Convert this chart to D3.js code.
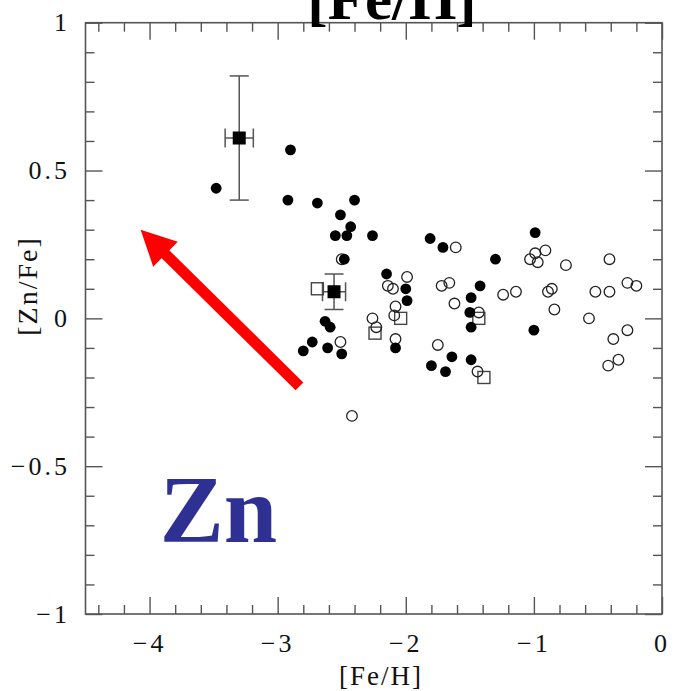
<!DOCTYPE html>
<html>
<head>
<meta charset="utf-8">
<script src="https://cdn.jsdelivr.net/npm/d3@7"></script>
<style>
  html, body { margin: 0; padding: 0; background: #fff; }
  svg { display: block; }
</style>
</head>
<body>
<svg id="chart" width="676" height="691"></svg>
<script>
// ---- data ----
const xMajorTicks = [-4, -3, -2, -1, 0];
const xTickLabels = ["\u22124", "\u22123", "\u22122", "\u22121", "0"];
const yMajorTicks = [-1, -0.5, 0, 0.5, 1];
const yTickLabels = ["\u22121", "\u22120.5", "0", "0.5", "1"];

const filledCircles = [
  [-3.48, 0.44], [-2.90, 0.57], [-2.92, 0.40], [-2.69, 0.39], [-2.40, 0.40],
  [-2.51, 0.35], [-2.43, 0.31], [-2.55, 0.28], [-2.46, 0.28], [-2.26, 0.28],
  [-2.48, 0.20], [-2.63, -0.01], [-2.59, -0.03], [-2.73, -0.08], [-2.80, -0.11],
  [-2.61, -0.10], [-2.50, -0.12], [-2.15, 0.15], [-2.00, 0.10], [-1.99, 0.06],
  [-2.08, -0.10], [-1.81, 0.27], [-1.71, 0.24], [-1.30, 0.20], [-1.42, 0.11],
  [-1.49, 0.07], [-1.50, 0.02], [-1.49, -0.03], [-1.64, -0.13], [-1.80, -0.16],
  [-1.69, -0.18], [-1.49, -0.14], [-0.99, 0.29], [-1.00, -0.04]
];

const openCircles = [
  [-2.50, 0.20], [-2.51, -0.08], [-2.26, 0.00], [-2.23, -0.03], [-1.99, 0.14],
  [-2.14, 0.11], [-2.10, 0.10], [-2.08, 0.04], [-2.09, 0.01], [-2.08, -0.07],
  [-2.42, -0.33], [-1.61, 0.24], [-1.03, 0.20], [-1.72, 0.11], [-1.66, 0.12],
  [-1.62, 0.05], [-1.43, 0.02], [-1.24, 0.08], [-1.14, 0.09], [-1.75, -0.09],
  [-1.44, -0.18], [-0.99, 0.22], [-0.97, 0.19], [-0.91, 0.23], [-0.75, 0.18],
  [-0.41, 0.20], [-0.89, 0.09], [-0.86, 0.10], [-0.84, 0.03], [-0.52, 0.09],
  [-0.41, 0.09], [-0.27, 0.12], [-0.20, 0.11], [-0.57, 0.00], [-0.27, -0.04],
  [-0.38, -0.07], [-0.34, -0.14], [-0.42, -0.16]
];

const openSquares = [
  [-2.69, 0.10], [-2.24, -0.05], [-2.04, 0.00], [-1.43, 0.00], [-1.39, -0.20]
];

// [FeH, ZnFe, errFeH, errZnFe]
const filledSquares = [
  [-3.30, 0.61, 0.11, 0.21],
  [-2.56, 0.09, 0.09, 0.06]
];

// annotation arrow in data units: [tailX, tailY, tipX, tipY]
const arrowData = [-2.83, -0.23, -4.07, 0.30];
const elementLabel = { text: "Zn", x: -3.92, y: -0.755 };

// ---- drawing ----
const svg = d3.select("#chart");
const mLeft = 85.5, mRight = 662, mTop = 22.7, mBottom = 614;

const x = d3.scaleLinear().domain([-4.5, 0]).range([mLeft, mRight]);
const y = d3.scaleLinear().domain([-1, 1]).range([mBottom, mTop]);

const frameColor = "#555";
const serif = "'Liberation Serif', 'Times New Roman', serif";

// minor tick values
const xMinor = d3.range(-44, 0, 2).map(v => v / 10).filter(v => !xMajorTicks.some(m => Math.abs(m - v) < 1e-9));
const yMinor = d3.range(-9, 10, 1).map(v => v / 10).filter(v => !yMajorTicks.some(m => Math.abs(m - v) < 1e-9));

function styleAxis(g) {
  g.select(".domain").remove();
  g.selectAll("line").attr("stroke", frameColor).attr("stroke-width", 1.4);
  g.selectAll("text").remove();
}

const majLen = 17, minLen = 9;
svg.append("g").attr("transform", `translate(0,${mBottom})`)
  .call(d3.axisBottom(x).tickValues(xMajorTicks).tickSize(-majLen)).call(styleAxis);
svg.append("g").attr("transform", `translate(0,${mBottom})`)
  .call(d3.axisBottom(x).tickValues(xMinor).tickSize(-minLen)).call(styleAxis);
svg.append("g").attr("transform", `translate(0,${mTop})`)
  .call(d3.axisTop(x).tickValues(xMajorTicks).tickSize(-majLen)).call(styleAxis);
svg.append("g").attr("transform", `translate(0,${mTop})`)
  .call(d3.axisTop(x).tickValues(xMinor).tickSize(-minLen)).call(styleAxis);
svg.append("g").attr("transform", `translate(${mLeft},0)`)
  .call(d3.axisLeft(y).tickValues(yMajorTicks).tickSize(-majLen)).call(styleAxis);
svg.append("g").attr("transform", `translate(${mLeft},0)`)
  .call(d3.axisLeft(y).tickValues(yMinor).tickSize(-minLen)).call(styleAxis);
svg.append("g").attr("transform", `translate(${mRight},0)`)
  .call(d3.axisRight(y).tickValues(yMajorTicks).tickSize(-majLen)).call(styleAxis);
svg.append("g").attr("transform", `translate(${mRight},0)`)
  .call(d3.axisRight(y).tickValues(yMinor).tickSize(-minLen)).call(styleAxis);

// frame
svg.append("rect")
  .attr("x", mLeft).attr("y", mTop)
  .attr("width", mRight - mLeft).attr("height", mBottom - mTop)
  .attr("fill", "none").attr("stroke", frameColor).attr("stroke-width", 1.6);

// tick labels
svg.append("g").selectAll("text").data(xMajorTicks).join("text")
  .attr("x", d => x(d)).attr("y", mBottom + 38)
  .attr("text-anchor", "middle")
  .attr("font-family", serif).attr("font-size", 26)
  .attr("letter-spacing", 3)
  .attr("fill", "#111")
  .text((d, i) => xTickLabels[i]);

svg.append("g").selectAll("text").data(yMajorTicks).join("text")
  .attr("x", 70).attr("y", d => y(d) + 8.5)
  .attr("text-anchor", "end")
  .attr("font-family", serif).attr("font-size", 26)
  .attr("letter-spacing", 3)
  .attr("fill", "#111")
  .text((d, i) => yTickLabels[i]);

// axis titles
svg.append("text")
  .attr("x", 381).attr("y", 685)
  .attr("text-anchor", "middle")
  .attr("font-family", serif).attr("font-size", 27)
  .attr("letter-spacing", 2)
  .attr("fill", "#111")
  .text("[Fe/H]");

svg.append("text")
  .attr("transform", "translate(37,286) rotate(-90)")
  .attr("text-anchor", "middle")
  .attr("font-family", serif).attr("font-size", 28)
  .attr("letter-spacing", 2)
  .attr("fill", "#111")
  .text("[Zn/Fe]");

// cut-off big title at top
svg.append("text")
  .attr("x", 392).attr("y", 19)
  .attr("text-anchor", "middle")
  .attr("font-family", serif).attr("font-size", 61)
  .attr("font-weight", "bold")
  .attr("fill", "#000")
  .text("[Fe/H]");

// big element label
svg.append("text")
  .attr("x", x(elementLabel.x)).attr("y", y(elementLabel.y))
  .attr("font-family", serif).attr("font-size", 96)
  .attr("font-weight", "bold")
  .attr("fill", "#2E3192")
  .text(elementLabel.text);

// red arrow
(function drawArrow() {
  const x0 = x(arrowData[0]), y0 = y(arrowData[1]);
  const x1 = x(arrowData[2]), y1 = y(arrowData[3]);
  const ang = Math.atan2(y1 - y0, x1 - x0);
  const headLen = 35, headHalf = 17.5;
  const bx = x1 - headLen * Math.cos(ang), by = y1 - headLen * Math.sin(ang);
  svg.append("line")
    .attr("x1", x0).attr("y1", y0).attr("x2", bx + 2 * Math.cos(ang)).attr("y2", by + 2 * Math.sin(ang))
    .attr("stroke", "#ff0000").attr("stroke-width", 11);
  const px = -Math.sin(ang), py = Math.cos(ang);
  svg.append("path")
    .attr("d", `M${x1},${y1} L${bx + headHalf * px},${by + headHalf * py} L${bx - headHalf * px},${by - headHalf * py} Z`)
    .attr("fill", "#ff0000");
})();

// error bars
const errColor = "#555";
const capHalf = 9.5;
const eb = svg.append("g").attr("stroke", errColor).attr("stroke-width", 1.5).attr("fill", "none");
filledSquares.forEach(d => {
  const cx = x(d[0]), cy = y(d[1]);
  const xa = x(d[0] - d[2]), xb = x(d[0] + d[2]);
  const ya = y(d[1] - d[3]), yb = y(d[1] + d[3]);
  eb.append("line").attr("x1", cx).attr("x2", cx).attr("y1", ya).attr("y2", yb);
  eb.append("line").attr("x1", cx - capHalf).attr("x2", cx + capHalf).attr("y1", ya).attr("y2", ya);
  eb.append("line").attr("x1", cx - capHalf).attr("x2", cx + capHalf).attr("y1", yb).attr("y2", yb);
  eb.append("line").attr("x1", xa).attr("x2", xb).attr("y1", cy).attr("y2", cy);
  eb.append("line").attr("x1", xa).attr("x2", xa).attr("y1", cy - capHalf).attr("y2", cy + capHalf);
  eb.append("line").attr("x1", xb).attr("x2", xb).attr("y1", cy - capHalf).attr("y2", cy + capHalf);
});

// open squares
const sq = 12;
svg.append("g").selectAll("rect").data(openSquares).join("rect")
  .attr("x", d => x(d[0]) - sq / 2).attr("y", d => y(d[1]) - sq / 2)
  .attr("width", sq).attr("height", sq)
  .attr("fill", "none").attr("stroke", "#444").attr("stroke-width", 1.4);

// open circles
svg.append("g").selectAll("circle").data(openCircles).join("circle")
  .attr("cx", d => x(d[0])).attr("cy", d => y(d[1])).attr("r", 5.3)
  .attr("fill", "none").attr("stroke", "#222").attr("stroke-width", 1.3);

// filled circles
svg.append("g").selectAll("circle").data(filledCircles).join("circle")
  .attr("cx", d => x(d[0])).attr("cy", d => y(d[1])).attr("r", 5.4)
  .attr("fill", "#000");

// filled squares
const fsq = 13;
svg.append("g").selectAll("rect").data(filledSquares).join("rect")
  .attr("x", d => x(d[0]) - fsq / 2).attr("y", d => y(d[1]) - fsq / 2)
  .attr("width", fsq).attr("height", fsq)
  .attr("fill", "#000");
</script>
</body>
</html>
